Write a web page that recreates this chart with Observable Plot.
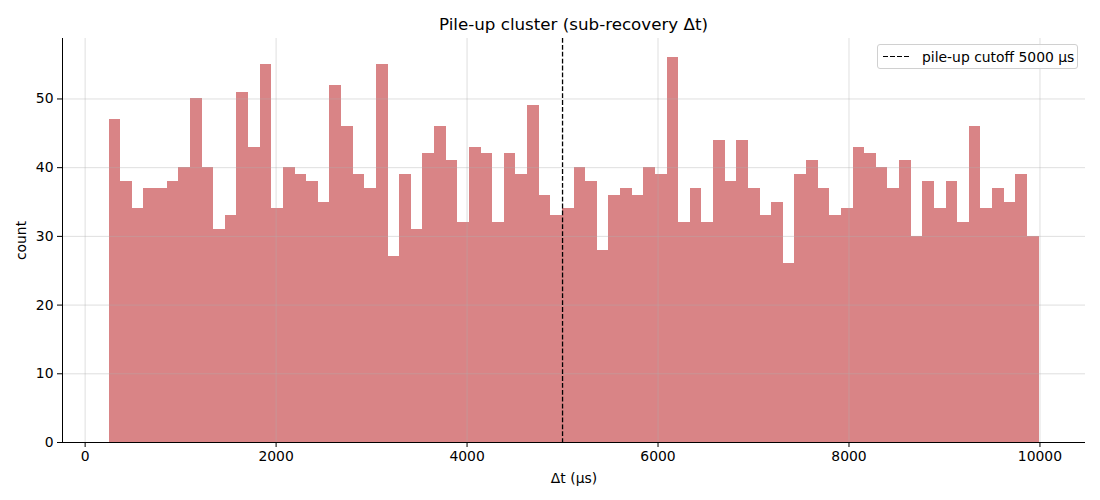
<!DOCTYPE html>
<html>
<head>
<meta charset="utf-8">
<script src="https://cdn.jsdelivr.net/npm/d3@7"></script>
<script src="https://cdn.jsdelivr.net/npm/@observablehq/plot@0.6"></script>
<style>
  body { margin: 0; background: #fff; font-family: "DejaVu Sans", sans-serif; }
  #wrap { position: relative; width: 1100px; height: 500px; }
  #title { height: 30px; box-sizing: border-box; padding: 16px 15px 0 62px; line-height: 17px;
           font-size: 16.7px; text-align: center; color: #000; white-space: nowrap; }
  #legend { position: absolute; left: 877px; top: 44px; width: 201px; height: 25px; box-sizing: border-box;
            background: rgba(255,255,255,0.85); border: 1px solid #d0d0d0; border-radius: 3px;
            font-size: 13.9px; color: #000; display: flex; align-items: center; padding-left: 5px; }
  #legend .swatch { display: inline-block; width: 28px; height: 1.3px; margin-right: 11px;
            background: repeating-linear-gradient(to right, #000 0 4.9px, transparent 4.9px 7.1px); }
</style>
</head>
<body>
<div id="wrap">
  <div id="title">Pile-up cluster (sub-recovery Δt)</div>
  <div id="chart"></div>
  <div id="legend"><span class="swatch"></span><span>pile-up cutoff 5000 µs</span></div>
</div>
<script>
// Histogram bins span this range (µs), equal-width bins
const binLo = 250;
const binHi = 9990;
// Counts per bin, left to right
const counts = [
  47, 38, 34, 37, 37, 38, 40, 50, 40, 31,
  33, 51, 43, 55, 34, 40, 39, 38, 35, 52,
  46, 39, 37, 55, 27, 39, 31, 42, 46, 41,
  32, 43, 42, 32, 42, 39, 49, 36, 33, 34,
  40, 38, 28, 36, 37, 36, 40, 39, 56, 32,
  37, 32, 44, 38, 44, 37, 33, 35, 26, 39,
  41, 37, 33, 34, 43, 42, 40, 37, 41, 30,
  38, 34, 38, 32, 46, 34, 37, 35, 39, 30
];
const cutoff = [5000];
const xTicks = [0, 2000, 4000, 6000, 8000, 10000];
const yTicks = [0, 10, 20, 30, 40, 50];
const xDomain = [-237, 10477];
const yDomain = [0, 58.8];

const binWidth = (binHi - binLo) / counts.length;
const bins = counts.map((c, i) => ({x1: binLo + i * binWidth, x2: binLo + (i + 1) * binWidth, count: c}));

const chart = Plot.plot({
  width: 1100,
  height: 470,
  marginTop: 8,
  marginBottom: 58,
  marginLeft: 62,
  marginRight: 15,
  style: {fontFamily: "DejaVu Sans, sans-serif", fontSize: "13.9px", color: "#000", background: "#fff", overflow: "visible"},
  x: {domain: xDomain},
  y: {domain: yDomain},
  marks: [
    Plot.rectY(bins, {x1: "x1", x2: "x2", y: "count", fill: "#d98486", inset: 0, shapeRendering: "crispEdges"}),
    Plot.gridX(xTicks, {stroke: "#b0b0b0", strokeOpacity: 0.4, strokeWidth: 1}),
    Plot.gridY(yTicks, {stroke: "#b0b0b0", strokeOpacity: 0.4, strokeWidth: 1}),
    Plot.ruleX(cutoff, {stroke: "#000", strokeWidth: 1.3, strokeDasharray: "4.8,2.1"}),
    Plot.ruleX([xDomain[0]], {stroke: "#000", strokeWidth: 1}),
    Plot.ruleY([yDomain[0]], {stroke: "#000", strokeWidth: 1}),
    Plot.axisX({ticks: xTicks, tickFormat: d => String(d), tickSize: 5, tickPadding: 4,
      label: "Δt (µs)", labelAnchor: "center", labelOffset: 40, labelArrow: "none"}),
    Plot.axisY({ticks: yTicks, tickFormat: d => String(d), tickSize: 5, tickPadding: 4,
      label: "count", labelAnchor: "center", labelOffset: 46, labelArrow: "none"})
  ]
});
document.getElementById("chart").appendChild(chart);
</script>
</body>
</html>
